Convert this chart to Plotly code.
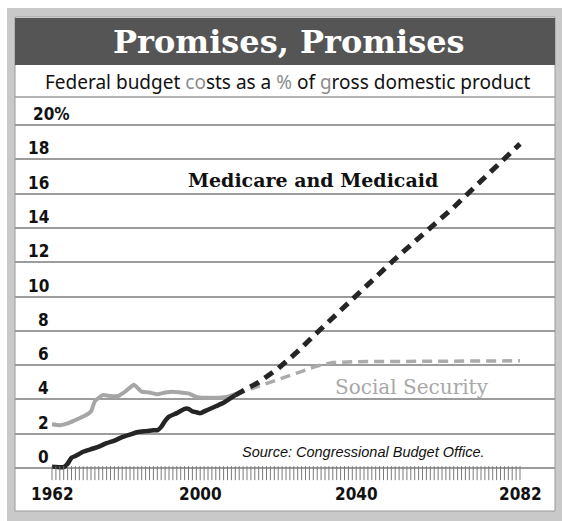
import plotly.graph_objects as go

# ---------------- data ----------------
mm_hist_years = [1962, 1964, 1965, 1966, 1967, 1968, 1970, 1972, 1974, 1976, 1978, 1980, 1982,
                 1984, 1986, 1988, 1989, 1990, 1991, 1992, 1994, 1996, 1997, 1998, 1999, 2000,
                 2002, 2004, 2006, 2008, 2009]
mm_hist_vals = [0.08, 0.05, 0.05, 0.25, 0.6, 0.7, 0.95, 1.1, 1.25, 1.45, 1.6, 1.8, 1.95,
                2.1, 2.15, 2.2, 2.2, 2.4, 2.75, 3.0, 3.2, 3.45, 3.45, 3.3, 3.25, 3.2,
                3.4, 3.6, 3.8, 4.1, 4.25]

mm_proj_years = [2009, 2015, 2020, 2025, 2030, 2035, 2040, 2045, 2050, 2055, 2060, 2065, 2070, 2075, 2082]
mm_proj_vals = [4.25, 5.0, 5.8, 6.8, 7.9, 9.0, 10.1, 11.2, 12.2, 13.2, 14.2, 15.2, 16.3, 17.4, 18.9]

ss_hist_years = [1962, 1964, 1966, 1968, 1970, 1972, 1973, 1975, 1977, 1979, 1981, 1983, 1985,
                 1987, 1989, 1991, 1993, 1995, 1997, 1999, 2001, 2003, 2005, 2007, 2009]
ss_hist_vals = [2.55, 2.5, 2.6, 2.8, 3.0, 3.3, 3.9, 4.25, 4.2, 4.2, 4.5, 4.85, 4.45,
                4.4, 4.3, 4.4, 4.45, 4.4, 4.35, 4.15, 4.1, 4.1, 4.1, 4.15, 4.3]

ss_proj_years = [2009, 2015, 2020, 2025, 2030, 2034, 2040, 2050, 2060, 2070, 2082]
ss_proj_vals = [4.3, 4.75, 5.15, 5.55, 5.95, 6.15, 6.2, 6.2, 6.2, 6.25, 6.25]

y_tick_vals = [0, 2, 4, 6, 8, 10, 12, 14, 16, 18, 20]
y_tick_text = ["0", "2", "4", "6", "8", "10", "12", "14", "16", "18", "20%"]
x_label_years = [1962, 2000, 2040, 2082]
minor_tick_years = list(range(1962, 2083))

title_text = "Promises, Promises"
subtitle_text = ("Federal budget <span style='color:#8c8c8c'>co</span>sts as a "
                 "<span style='color:#8c8c8c'>%</span> of <span style='color:#8c8c8c'>g</span>"
                 "ross domestic product")
mm_label = "Medicare and Medicaid"
ss_label = "Social Security"
source_text = "Source: Congressional Budget Office."

# ---------------- geometry ----------------
W, H = 562, 521
L, R, T, B = 15, 555, 97, 511          # plot area in pixels
XR = [1952.513, 2090.974]
YR = [-2.507, 21.633]


def px(xp):
    return (xp - L) / (R - L)


def py(yp):
    return (B - yp) / (B - T)


fig = go.Figure()

BLACK = "#252525"
GREY = "#a6a6a6"
TICKFONT = "Liberation Sans Narrow, DejaVu Sans Condensed, sans-serif"

fig.add_trace(go.Scatter(x=ss_proj_years, y=ss_proj_vals, mode="lines",
                         line=dict(color="#ababab", width=3.5, dash="10px,6px"),
                         hoverinfo="skip", showlegend=False))
fig.add_trace(go.Scatter(x=ss_hist_years, y=ss_hist_vals, mode="lines",
                         line=dict(color=GREY, width=4, shape="spline", smoothing=0.4),
                         hoverinfo="skip", showlegend=False))
fig.add_trace(go.Scatter(x=mm_hist_years, y=mm_hist_vals, mode="lines",
                         line=dict(color=BLACK, width=4.5, shape="spline", smoothing=0.4),
                         hoverinfo="skip", showlegend=False))
fig.add_trace(go.Scatter(x=mm_proj_years, y=mm_proj_vals, mode="lines",
                         line=dict(color=BLACK, width=5, dash="10px,7px"),
                         hoverinfo="skip", showlegend=False))
# small annual tick marks hanging below the zero line
fig.add_trace(go.Scatter(x=minor_tick_years, y=[-0.3] * len(minor_tick_years), mode="markers",
                         marker=dict(symbol="line-ns", size=10,
                                     line=dict(color="#7a7a7a", width=1)),
                         hoverinfo="skip", showlegend=False))

shapes = [
    # outer light-grey frame
    dict(type="rect", xref="paper", yref="paper", x0=px(7), x1=px(562), y0=py(8), y1=py(521),
         fillcolor="#c9c9c9", line=dict(width=0), layer="below"),
    # inner white panel
    dict(type="rect", xref="paper", yref="paper", x0=px(15), x1=px(555), y0=py(17), y1=py(511),
         fillcolor="white", line=dict(color="#9a9a9a", width=1), layer="below"),
    # dark title band
    dict(type="rect", xref="paper", yref="paper", x0=px(15), x1=px(555), y0=py(18), y1=py(65),
         fillcolor="#555555", line=dict(width=0), layer="below"),
    # rule under subtitle
    dict(type="line", xref="paper", yref="paper", x0=0, x1=1, y0=1, y1=1,
         line=dict(color="#9c9c9c", width=1.5), layer="below"),
]

annotations = [
    dict(text=title_text, xref="paper", yref="paper", x=px(289), y=py(42),
         showarrow=False, xanchor="center", yanchor="middle",
         font=dict(family="DejaVu Serif", size=32, color="white", weight="bold")),
    dict(text=subtitle_text, xref="paper", yref="paper", x=px(287), y=py(82),
         showarrow=False, xanchor="center", yanchor="middle",
         font=dict(family="Noto Sans, Liberation Sans, sans-serif", size=19, color="#111")),
    dict(text=mm_label, xref="x", yref="y", x=2028.8, y=16.79, showarrow=False,
         xanchor="center", yanchor="middle",
         font=dict(family="DejaVu Serif", size=19, color="#111", weight="bold")),
    dict(text=ss_label, xref="x", yref="y", x=2054.2, y=4.72, showarrow=False,
         xanchor="center", yanchor="middle",
         font=dict(family="DejaVu Serif", size=20, color="#a8a8a8")),
    dict(text="<i>" + source_text + "</i>", xref="x", yref="y", x=2041.9, y=0.93, showarrow=False,
         xanchor="center", yanchor="middle",
         font=dict(family="Liberation Sans", size=14.5, color="#111")),
]

for v, t in zip(y_tick_vals, y_tick_text):
    if t.endswith("%"):
        annotations.append(dict(text=t, xref="paper", yref="y", x=px(31), y=v, yshift=11,
                                showarrow=False, xanchor="left", yanchor="middle",
                                font=dict(family=TICKFONT, size=17, color="#111", weight="bold")))
    else:
        annotations.append(dict(text=t, xref="paper", yref="y", x=px(51), y=v, yshift=11,
                                showarrow=False, xanchor="right", yanchor="middle",
                                font=dict(family=TICKFONT, size=17, color="#111", weight="bold")))

for yr in x_label_years:
    annotations.append(dict(text=str(yr), xref="x", yref="y", x=yr, y=-1.516,
                            showarrow=False, xanchor="center", yanchor="middle",
                            font=dict(family=TICKFONT, size=17, color="#111", weight="bold")))

fig.update_layout(
    width=W, height=H,
    margin=dict(l=L, r=W - R, t=T, b=H - B, pad=0),
    paper_bgcolor="white",
    plot_bgcolor="rgba(0,0,0,0)",
    xaxis=dict(range=XR, showgrid=False, zeroline=False, showticklabels=False,
               ticks="", showline=False, fixedrange=True),
    yaxis=dict(range=YR, tickvals=y_tick_vals, showticklabels=False, ticks="",
               showgrid=True, gridcolor="#9c9c9c", gridwidth=1.5,
               zeroline=False, showline=False, fixedrange=True),
    shapes=shapes,
    annotations=annotations,
    showlegend=False,
)

fig.write_html("out.html", config={"displayModeBar": False},
               post_script="document.body.style.margin='0px';document.body.style.overflow='hidden';")
